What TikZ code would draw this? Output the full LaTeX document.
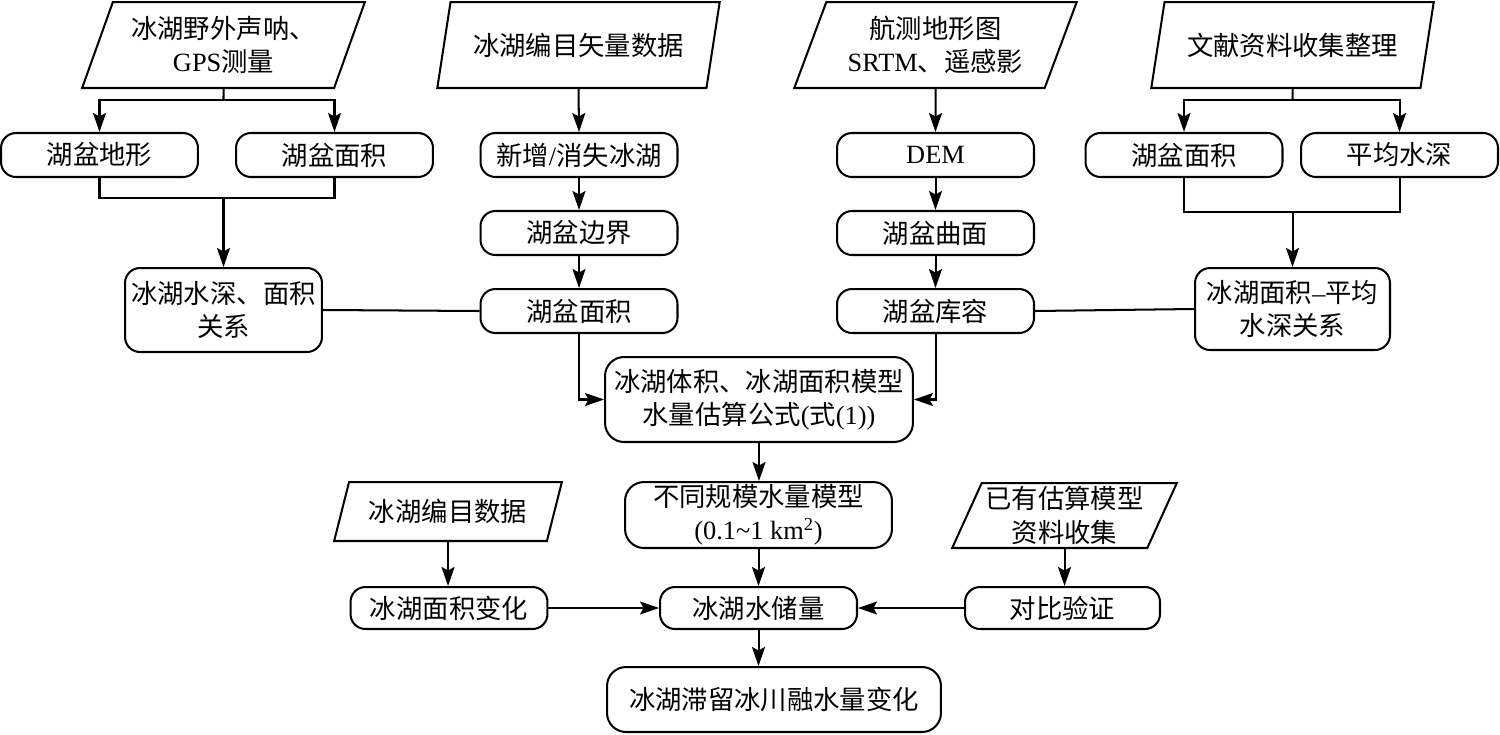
\documentclass[tikz,border=0pt]{standalone}
\usepackage{fontspec}
\setmainfont{Liberation Serif}
\newfontfamily\cjk{Noto Sans CJK SC}
\newcommand\latn[1]{{\rmfamily #1}}
\usepackage{tikz}
\usetikzlibrary{shapes.geometric}
\usetikzlibrary{arrows.meta}
\tikzset{myboxRnd/.style={draw, rounded corners=0.3cm, inner sep=0pt, minimum width=3.94cm, minimum height=0.88cm, align=center}}
\tikzset{myboxBig/.style={myboxRnd, rounded corners=0.38cm}}
\tikzset{myboxPar/.style={draw, trapezium, trapezium left angle=66, trapezium right angle=114, trapezium stretches=true, inner sep=0pt, minimum width=5.66cm, minimum height=1.72cm, align=center}}
\tikzset{myboxParSm/.style={myboxPar, trapezium left angle=64, trapezium right angle=116}}

\begin{document}
\begin{tikzpicture}[x=0.02cm, y=-0.02cm, line width=1.15pt, >={Stealth[length=0.38cm, width=0.26cm, inset=0.07cm]},
  every node/.style={font=\cjk\fontsize{15pt}{19pt}\selectfont}]

\useasboundingbox (0,0) rectangle (1500,734);

% inputs
\node[myboxPar] (in1) at (223.5, 45) {冰湖野外声呐、\\\latn{GPS}测量};
\node[myboxPar] (in2) at (578.5, 45) {冰湖编目矢量数据};
\node[myboxPar] (in3) at (935.5, 45) {航测地形图\\\latn{SRTM}、遥感影};
\node[myboxPar] (in4) at (1292.5, 45) {文献资料收集整理};

\node[myboxRnd] (lt1) at (99.5, 155) {湖盆地形};
\node[myboxRnd] (lt2) at (334.5, 155) {湖盆面积};
\node[myboxRnd, minimum height=1.68cm] (rel1) at (223.5, 310) {冰湖水深、面积\\关系};

\node[myboxRnd] (m1) at (579, 155) {新增\latn{/}消失冰湖};
\node[myboxRnd] (m2) at (579, 233) {湖盆边界};
\node[myboxRnd] (m3) at (579, 311) {湖盆面积};

\node[myboxRnd] (d1) at (935.5, 155) {\latn{DEM}};
\node[myboxRnd] (d2) at (935.5, 233) {湖盆曲面};
\node[myboxRnd] (d3) at (935.5, 311) {湖盆库容};

\node[myboxRnd] (r1) at (1184, 155) {湖盆面积};
\node[myboxRnd] (r2) at (1399.5, 155) {平均水深};
\node[myboxRnd, minimum width=3.9cm, minimum height=1.64cm] (rel2) at (1292.5, 309) {冰湖面积\latn{--}平均\\水深关系};

\node[myboxBig, minimum width=6.16cm, minimum height=1.7cm] (core) at (759, 399.5) {冰湖体积、冰湖面积模型\\水量估算公式\latn{(}式\latn{(1))}};
\node[myboxBig, minimum width=5.34cm, minimum height=1.32cm] (mdl) at (758.5, 515) {不同规模水量模型\\\latn{(0.1\textasciitilde 1 km\textsuperscript{2})}};

\node[myboxParSm, minimum width=4.56cm, minimum height=1.18cm] (in5) at (448, 511.5) {冰湖编目数据};
\node[myboxParSm, minimum width=4.5cm, minimum height=1.3cm] (in6) at (1064.5, 515.5) {已有估算模型\\资料收集};

\node[myboxRnd, minimum height=0.84cm] (chg) at (449, 608) {冰湖面积变化};
\node[myboxRnd, minimum height=0.84cm] (stor) at (758.5, 608) {冰湖水储量};
\node[myboxRnd, minimum width=3.9cm, minimum height=0.84cm] (vrf) at (1062.5, 608) {对比验证};
\node[myboxBig, minimum width=6.68cm, minimum height=1.3cm] (fin) at (774, 699.5) {冰湖滞留冰川融水量变化};

% junctions
\coordinate (j1) at (223.5, 100);
\coordinate (j2) at (223.5, 198);
\coordinate (j4) at (1292.5, 100);
\coordinate (j5) at (1292.5, 212);

% left column
\draw (in1.south) -- (j1);
\draw[->] (j1) -| (lt1.north);
\draw[->] (j1) -| (lt2.north);
\draw (lt1.south) |- (j2) -| (lt2.south);
\draw[->] (j2) -- (rel1.north);
\draw (rel1.east) -- (m3.west);

% middle columns
\draw[->] (in2.south) -- (m1.north);
\draw[->] (m1) -- (m2);
\draw[->] (m2) -- (m3);
\draw[->] (m3.south) |- (core.west);

\draw[->] (in3.south) -- (d1.north);
\draw[->] (d1) -- (d2);
\draw[->] (d2) -- (d3);
\draw[->] (d3.south) |- (core.east);
\draw (d3.east) -- (rel2.west);

% right column
\draw (in4.south) -- (j4);
\draw[->] (j4) -| (r1.north);
\draw[->] (j4) -| (r2.north);
\draw (r1.south) |- (j5) -| (r2.south);
\draw[->] (j5) -- (rel2.north);

% bottom
\draw[->] (core.south) -- (core.south |- mdl.north);
\draw[->] (mdl.south) -- (stor.north);
\draw[->] (in5.south) -- (in5.south |- chg.north);
\draw[->] (chg.east) -- (stor.west);
\draw[->] (in6.south) -- (in6.south |- vrf.north);
\draw[->] (vrf.west) -- (stor.east);
\draw[->] (stor.south) -- (stor.south |- fin.north);

\end{tikzpicture}
\end{document}
